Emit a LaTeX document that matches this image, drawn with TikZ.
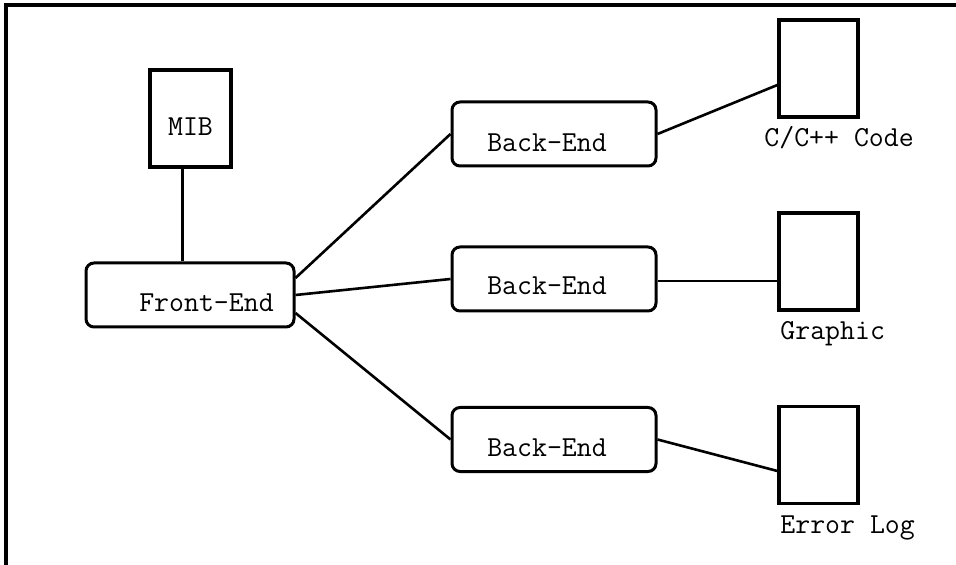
\documentclass[tikz,border=0pt]{standalone}
\usepackage{fontspec}
\begin{document}
\begin{tikzpicture}[x=0.5pt,y=-0.5pt,
  every node/.style={font=\ttfamily\fontsize{14.5pt}{17pt}\selectfont},
  sqbox/.style={draw,line width=1.6pt,minimum width=40pt,minimum height=48.5pt,inner sep=0pt},
  rbox/.style={draw,line width=1.5pt,rounded corners=4pt,minimum width=102pt,minimum height=32pt,inner sep=0pt},
  lbl/.style={anchor=west,inner sep=0pt,text height=1.5ex,text depth=0.4ex},
  conn/.style={line width=1.3pt}]
\useasboundingbox (0,0) rectangle (956,565);
\draw[line width=1.6pt] (6,565) -- (6,5) -- (956,5);
% nodes
\node[sqbox,minimum width=40.5pt,label={[yshift=-4pt]center:MIB}] (mib) at (190.5,118.5) {};
\node[rbox,minimum width=104pt,label={[xshift=8.25pt,yshift=-4pt]center:Front-End}] (fe) at (190,295) {};
\node[rbox,label={[xshift=-3.5pt,yshift=-4.5pt]center:Back-End}] (be1) at (554,134) {};
\node[rbox,label={[xshift=-3.5pt,yshift=-3.5pt]center:Back-End}] (be2) at (554,279) {};
\node[rbox,label={[xshift=-3.5pt,yshift=-4.25pt]center:Back-End}] (be3) at (554,439.5) {};
\node[sqbox,minimum width=39.5pt] (code) at (818.5,68.5) {};
\node[sqbox,minimum width=39.5pt] (graph) at (818.5,261.5) {};
\node[sqbox,minimum width=39.5pt] (err) at (818.5,455) {};
\node[lbl] (codel) at (764,142) {C/C++ Code};
\node[lbl] (graphl) at (780,335) {Graphic};
\node[lbl] (errl) at (780,529) {Error Log};
% connectors
\draw[conn] ([xshift=-4pt]mib.south) -- ([xshift=-4pt]mib.south |- fe.north);
\draw[conn] ([yshift=8.5pt]fe.east) -- (be1.west);
\draw[conn] (fe.east) -- (be2.west);
\draw[conn] ([yshift=-9pt]fe.east) -- (be3.west);
\draw[conn] (be1.east) -- ([yshift=-8.25pt]code.west);
\draw[conn] ([yshift=-1pt]be2.east) -- ([yshift=-1pt]be2.east -| graph.west);
\draw[conn] (be3.east) -- ([yshift=-8pt]err.west);
\end{tikzpicture}
\end{document}
